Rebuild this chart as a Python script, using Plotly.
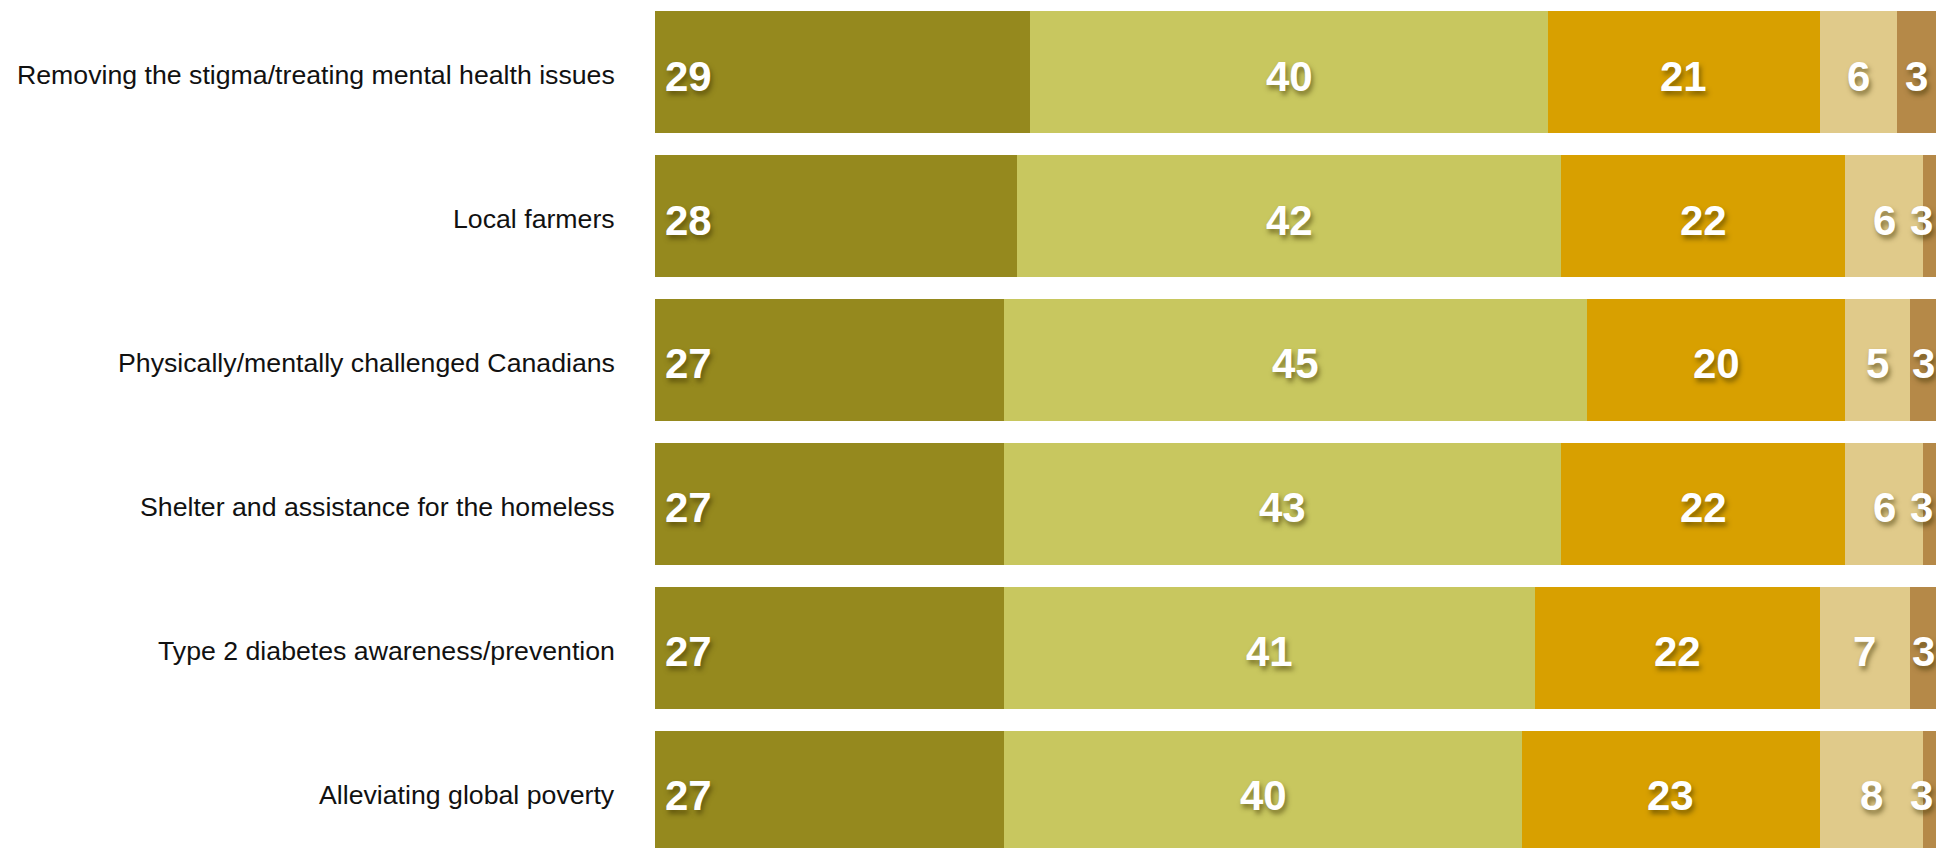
import plotly.graph_objects as go

# Causes, top to bottom
categories = [
    "Removing the stigma/treating mental health issues",
    "Local farmers",
    "Physically/mentally challenged Canadians",
    "Shelter and assistance for the homeless",
    "Type 2 diabetes awareness/prevention",
    "Alleviating global poverty",
]

# Share of respondents (%) per response level, one list per stacked segment
level_1 = [29, 28, 27, 27, 27, 27]
level_2 = [40, 42, 45, 43, 41, 40]
level_3 = [21, 22, 20, 22, 22, 23]
level_4 = [6, 6, 5, 6, 7, 8]
level_5 = [3, 3, 3, 3, 3, 3]

series = [level_1, level_2, level_3, level_4, level_5]
colors = ["#95891E", "#C8C75F", "#D8A000", "#E0CA8A", "#B58948"]

X_MAX = 99.0
FONT = "Liberation Sans, Arial, Helvetica, sans-serif"

value_font = dict(
    family=FONT,
    size=42,
    color="white",
    weight="bold",
    shadow="2px 4px 5px rgba(60,50,0,0.55)",
)

fig = go.Figure()
for vals, col in zip(series, colors):
    fig.add_trace(
        go.Bar(
            y=categories,
            x=vals,
            orientation="h",
            marker=dict(color=col, line=dict(width=0)),
            hoverinfo="skip",
        )
    )

# Value labels: first segment hugs the bar start, the rest sit centred in
# the visible part of their segment.
annotations = []
for r, cat in enumerate(categories):
    start = 0
    for s, vals in enumerate(series):
        v = vals[r]
        end = start + v
        if s == 0:
            annotations.append(dict(
                x=0, y=cat, xref="x", yref="y", text=str(v),
                showarrow=False, xanchor="left", xshift=8, yshift=-4,
                font=value_font,
            ))
        else:
            x0, x1 = min(start, X_MAX), min(end, X_MAX)
            mid = (x0 + x1) / 2
            if mid > X_MAX - 0.95:
                annotations.append(dict(
                    x=X_MAX, y=cat, xref="x", yref="y", text=str(v),
                    showarrow=False, xanchor="right", xshift=-1, yshift=-4,
                    font=value_font,
                ))
            else:
                annotations.append(dict(
                    x=mid, y=cat, xref="x", yref="y", text=str(v),
                    showarrow=False, xanchor="center", yshift=-4,
                    font=value_font,
                ))
        start = end

    # Category label to the left of the bar
    annotations.append(dict(
        x=0, y=cat, xref="paper", yref="y", text=cat,
        showarrow=False, xanchor="right", xshift=-38, yshift=-3,
        font=dict(family=FONT, size=26.7, color="#111111"),
    ))

fig.update_layout(
    barmode="stack",
    bargap=0.153,
    width=1936,
    height=848,
    margin=dict(l=655, r=0, t=0, b=0),
    paper_bgcolor="white",
    plot_bgcolor="white",
    showlegend=False,
    annotations=annotations,
    xaxis=dict(range=[0, X_MAX], visible=False, fixedrange=True),
    yaxis=dict(
        range=[5.389, -0.5],
        showgrid=False,
        zeroline=False,
        showline=False,
        ticks="",
        showticklabels=False,
        fixedrange=True,
    ),
)

fig.write_html("out.html")
